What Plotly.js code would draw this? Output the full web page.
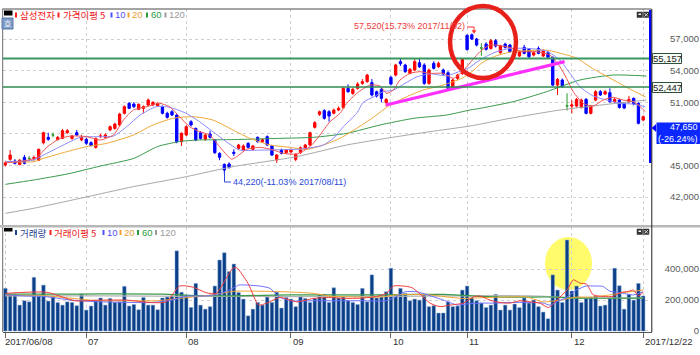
<!DOCTYPE html>
<html><head><meta charset="utf-8">
<script src="https://cdn.plot.ly/plotly-3.0.1.min.js"></script>
<style>html,body{margin:0;padding:0;background:#fff;}#chart{width:700px;height:355px;}</style>
</head><body><div id="chart"></div>
<script>
// ---- DATA ----
const openP = [45050,45580,45420,45100,45770,45670,45620,45500,47160,47670,47890,47480,47570,48110,47570,48110,47420,47480,47160,46720,
47730,47670,48370,48520,48840,49950,50900,50830,50330,50420,50740,50740,50670,50580,49950,50100,49790,47260,47900,49150,
48520,48110,47480,47990,47420,46150,45100,45140,46250,46620,46470,47100,46530,47670,47250,47730,46850,45520,46470,46220,
46280,45580,46220,46620,46940,48620,49850,50200,50100,49950,50260,50480,52320,51840,52320,52790,52950,52860,52000,52220,
50960,53360,53580,54850,54530,53740,54060,54750,54530,52790,54690,54380,54060,53800,52320,53270,53740,57350,57400,57000,
56150,56520,56110,56840,55700,56520,56430,55800,55390,56210,56020,55480,56110,55390,55700,55260,52630,53110,50650,50640,
50640,50510,51270,49950,51210,52000,51780,51910,51050,51210,50900,51050,51370,50890,49310];
const highP = [45450,46470,45600,45600,46000,45900,45950,46600,48200,48110,48110,47800,48450,48450,47900,48360,47900,47600,47300,47650,
48000,48050,48800,49050,50000,50700,51000,51000,50900,50700,51350,51100,51000,50700,50100,50250,49850,48150,48800,49300,
48600,48250,48000,48300,47500,46250,45200,45300,46530,47050,47000,47200,46950,47750,47550,47850,46950,46100,46600,46550,
46600,46150,46800,47050,48200,49200,50200,50350,50250,50400,50600,52400,52700,52350,52900,53200,53700,53200,52100,52350,
51400,53500,54650,55150,54650,54250,55100,55150,54700,54200,54900,54850,54200,53950,53250,53700,55200,57450,57520,57100,
56600,56700,57000,57000,56450,56650,56550,56200,55900,56450,56150,55850,56300,56000,55850,55350,53300,53250,51850,51200,
51400,51350,51400,50750,52150,52150,52150,52320,51400,51300,51000,51600,51450,51000,49750];
const lowP = [44900,45450,45100,45000,45100,45400,45450,45400,47000,47350,47670,47350,47500,48000,47450,47800,47300,46950,46800,46600,
47600,47600,48250,48400,48700,49850,50350,50450,50250,49950,50650,50650,50600,49850,49450,49700,47100,46850,47800,48700,
47300,47450,47350,47550,46100,45500,44220,44700,45900,46500,46350,46600,46400,47150,47150,46850,45900,45250,46050,46100,
46150,45400,46100,46500,46850,48500,49700,49350,49150,49850,50150,50400,51900,51700,52200,52650,52850,51550,51450,51000,
50600,52600,53450,54450,53800,53650,53950,54250,52650,52650,54100,54250,53550,52200,52200,53100,53600,55900,56900,56300,
55400,55900,56000,56200,55600,56100,55700,55700,55300,55550,55200,55350,55550,55300,55150,52550,51700,52350,50200,49950,
50500,50400,49850,49850,51100,51600,51700,50950,50950,50400,50350,50950,50700,48900,49200];
const closeP = [45250,45990,45200,45500,45200,45670,45740,46530,48110,47480,47890,47670,48300,48300,47800,47890,47670,47100,46900,47570,
47800,47890,48680,48930,49880,50580,50420,50580,50800,50580,51210,50990,50900,49950,49570,49790,47260,48050,48680,48840,
47420,47570,47890,47670,46210,45770,44570,44820,46150,46940,46850,46720,46850,47260,47450,46940,45990,45990,46150,46470,
46470,46060,46690,46940,48110,49060,50100,49470,49690,50260,50420,52320,52000,52220,52730,52950,53580,51690,51590,51370,
51270,52730,54530,54650,53900,54120,54850,54370,52790,54060,54220,54690,53680,52320,53110,53580,55070,56000,57000,56430,
56150,56020,56840,56330,56330,56210,55800,56020,55800,55640,55320,55700,55640,55900,55260,52630,53170,52480,50650,50740,
51270,51210,49950,50640,52000,51690,52000,51050,51270,50510,50450,51270,50830,49000,49630];
const volume = [275000,236000,236000,167000,195000,188000,346000,226000,296000,193000,226000,183000,167000,188000,184000,163000,238000,135000,161000,199000,
213000,167000,210000,184000,188000,288000,161000,171000,137000,216000,167000,167000,137000,213000,219000,226000,517000,250000,231000,152000,
307000,167000,141000,157000,290000,458000,505000,383000,432000,248000,206000,98000,141000,184000,167000,219000,184000,250000,148000,216000,
206000,157000,226000,210000,184000,210000,233000,236000,184000,279000,213000,219000,195000,184000,171000,275000,188000,362000,213000,231000,
253000,405000,231000,275000,242000,195000,206000,199000,236000,157000,163000,116000,116000,188000,157000,161000,264000,290000,213000,195000,
180000,151000,167000,236000,135000,167000,135000,174000,151000,213000,180000,199000,157000,122000,79000,362000,264000,184000,587000,258000,
290000,184000,213000,219000,226000,161000,167000,210000,405000,292000,141000,236000,199000,307000,226000];

// price moving averages (bar position, value)
const ma5Idx = [0,3.1,6.6,8.7,11.1,13.6,17.1,19.9,22.7,24.8,26.9,29.7,32.4,34.5,36.6,38.7,40.8,42.9,45,47.5,48.6,50.7,53.5,56.3,58.4,61.2,64,66.1,68.2,70.3,71.7,73.8,76.6,78.7,80.1,81.5,82.9,85,87.1,89.2,92,94.1,96.2,98.3,99.7,101.8,105.3,108.8,111.6,114.4,116.5,117.9,119.3,121.4,123.5,125.6,127.7,129.8,131.9,133.4,134.4];
const ma5Val = [45265,45360,45771,46720,47479,47795,47732,47416,47890,49313,50263,50579,50895,50579,49630,48681,48207,47890,46783,45600,45834,46530,46720,46467,46150,46087,46783,47890,49155,49946,50895,51844,52635,52540,51844,52160,53109,53742,53900,53742,53742,53267,54000,55100,55800,56431,56273,55798,55798,55482,54375,53268,52003,50895,50642,51212,51465,51212,51054,50579,50105];
const ma10Idx = [0,5.9,8,11.5,15.7,19.2,22.7,25.5,28.3,31.7,33.8,35.9,38,40.8,43.6,46.4,49.2,53,58,62,64.7,66.8,68.9,71,73.8,75.2,77.3,79.4,81.5,83.6,86.4,89.2,92.7,94.1,96.2,97.5,99,100.8,103.2,106,110.2,113.7,116.5,118.6,120.7,123.5,126.3,129.1,131.9,134.4];
const ma10Val = [45360,45518,45992,46783,47669,47732,47795,48681,49788,50579,50579,50326,49946,49155,48207,47258,46467,46450,46500,46550,46720,46942,47574,48681,49946,51000,51500,52000,52150,52700,53400,53700,53500,53700,54058,54300,54800,55300,55800,56100,56100,55850,55007,53742,52477,51591,51212,50895,50832,50579];
const ma20Idx = [0,6,8,12.9,17,21.3,26.9,31,35.2,39.4,43.6,47.8,51.4,55.6,59.8,63.3,66.8,70.3,73.8,77.3,80.8,84.3,87.8,92,96,98,100,102.5,106,110,113.5,117,120,123,127,131,134.5];
const ma20Val = [45360,45360,45676,46309,46783,47100,47890,48840,49472,49630,49313,48365,47574,46942,46720,46530,46942,47574,48523,49567,50737,51528,52160,52635,53300,53900,54700,55300,55750,55900,55950,55600,55200,54300,53300,52300,51500];
const ma60Idx = [0,5.9,13,20,27,32,37,41,47,52,57.7,64.7,71.7,78.7,85.7,92.7,97.6,99.7,106.7,113.7,120.7,127.7,134.7];
const ma60Val = [43210,43620,44190,44948,45676,46800,47300,47420,47450,47500,47574,47669,48048,48840,49472,49788,50263,50421,51054,52003,53110,53584,53489];
const ma120Idx = [0,5.9,15.7,26.9,38,47.8,61.2,71.7,82.2,89.2,97.6,106,116.5,127,134.7];
const ma120Val = [40457,40932,41880,42990,43936,44885,45834,46942,47732,48207,48745,49472,50263,50832,51212];

// volume moving averages
const vma5Idx = [0,8.7,14.6,19.9,25.5,30.3,33.8,36.6,39.4,42.2,44.3,46.4,47.8,48.6,51,53.2,54.9,57.7,61.2,64.7,68.2,71.7,75.2,78,80.1,81.5,83.6,85.4,87.1,89.2,91.3,93.4,96.2,98.3,99.7,101.8,103.9,106,108.1,110.2,112.3,114.1,115.8,118,119.3,120.7,122.1,123.5,125.6,127.7,129.1,130.9,132,133,134];
const vma5Val = [243000,250000,195000,199000,199000,184000,188000,290000,283000,247000,242000,340000,405000,408000,306000,167000,180000,216000,188000,210000,216000,210000,213000,223000,243000,290000,290000,280000,239000,180000,157000,167000,180000,219000,226000,199000,184000,180000,195000,188000,180000,151000,199000,264000,330000,309000,302000,233000,223000,223000,247000,256000,264000,226000,251000];
const vma10Idx = [0,4,8,14,20,26,31,35,38,42,45,47.8,49,51,53.5,55.6,57.5,60,65,70,75,80,82,84,86.5,89,92,95,97,100,103,106,110,113,114.4,116,118,120,122,124,125.5,127,129,132,134];
const vma10Val = [233000,226000,223000,199000,188000,184000,184000,200000,225000,226000,240000,275000,296000,296000,290000,275000,220000,195000,195000,195000,195000,195000,220000,253000,253000,230000,200000,167000,175000,180000,180000,184000,184000,180000,167000,190000,219000,264000,290000,290000,288000,257000,248000,233000,253000];
const vma20Idx = [0,8,16,20,26,32,38,44,48,55,61,65,68,74,79,82,86,89,93,96,100,105,109.5,113,116.5,120,123.5,127,130.5,134];
const vma20Val = [230000,228000,205000,195000,195000,195000,215000,235000,256000,256000,250000,242000,225000,219000,219000,233000,236000,233000,219000,210000,215000,219000,219000,188000,199000,219000,219000,233000,250000,264000];
const vma60Idx = [0,16,24,33,40,48,60,70,80,86,92,100,105,116,120,134];
const vma60Val = [238000,238000,240000,238000,229000,227000,233000,233000,233000,236000,236000,224000,219000,219000,212000,212000];
const vma120Idx = [0,20,40,60,80,96,110,120,134];
const vma120Val = [227000,227000,224000,222000,224000,227000,227000,214000,212000];

const tickIdx = [0,17,38,60,81,97,119,134];
const tickLabels = ['2017/06/08','07','08','09','10','11','12','2017/12/22'];
const priceTicks = [42000,45000,48000,51000,54000,57000];
const volTicks = [0,200000,400000];
const hLines = [55157,52447];
const hLineLabels = ['55,157','52,447'];
const trendIdx = [80,117.5];
const trendVal = [50740,54860];
const highText = '57,520(15.73% 2017/11/02)';
const lowText = '44,220(-11.03% 2017/08/11)';
const lastPriceText = '47,650';
const lastPctText = '(-26.24%)';

// ---- helpers (pixel -> paper) ----
const PX = px => (px - 3) / 696;
const PY = py => (332 - py) / 323;
const fmt = v => v.toLocaleString('en-US');

// split candles into up / down / doji
const up = {x:[],o:[],h:[],l:[],c:[]}, dn = {x:[],o:[],h:[],l:[],c:[]}, dj = {x:[],o:[],h:[],l:[],c:[]};
for (let i = 0; i < closeP.length; i++) {
  const g = closeP[i] > openP[i] ? up : (closeP[i] < openP[i] ? dn : dj);
  g.x.push(i); g.o.push(openP[i]); g.h.push(highP[i]); g.l.push(lowP[i]); g.c.push(closeP[i]);
}
const candle = (g, col) => ({type:'candlestick', x:g.x, open:g.o, high:g.h, low:g.l, close:g.c,
  xaxis:'x', yaxis:'y', hoverinfo:'skip', whiskerwidth:0,
  increasing:{line:{color:col,width:1}, fillcolor:col}, decreasing:{line:{color:col,width:1}, fillcolor:col}});
const line = (x, y, col, w, xa, ya) => ({type:'scatter', mode:'lines', x:x, y:y, xaxis:xa, yaxis:ya,
  line:{color:col, width:w, shape:'spline', smoothing:0.6}, hoverinfo:'skip'});

const idx = closeP.map((_, i) => i);
const traces = [
  {type:'bar', x:idx, y:volume, xaxis:'x2', yaxis:'y2', width:0.74,
   marker:{color:'#0b3f88', line:{color:'#86a9d6', width:0.5}}, hoverinfo:'skip'},
  line(vma120Idx, vma120Val, '#b4b4b4', 1.2, 'x2', 'y2'),
  line(vma60Idx, vma60Val, '#3a9a4a', 1.2, 'x2', 'y2'),
  line(vma20Idx, vma20Val, '#f0a434', 1, 'x2', 'y2'),
  line(vma10Idx, vma10Val, '#7070ff', 1, 'x2', 'y2'),
  line(vma5Idx, vma5Val, '#f03c3c', 1, 'x2', 'y2'),
  line(ma120Idx, ma120Val, '#a8a8a8', 1, 'x', 'y'),
  line(ma60Idx, ma60Val, '#3a9a4a', 1, 'x', 'y'),
  line(ma20Idx, ma20Val, '#f0a838', 1, 'x', 'y'),
  line(ma10Idx, ma10Val, '#8a8aff', 1, 'x', 'y'),
  line(ma5Idx, ma5Val, '#f25555', 1, 'x', 'y'),
  {type:'scatter', mode:'lines', x:trendIdx, y:trendVal, xaxis:'x', yaxis:'y',
   line:{color:'#ff30ff', width:3.2}, hoverinfo:'skip'},
  candle(up, '#ff0000'), candle(dn, '#0000ff'), candle(dj, '#2f9a2f')
];

// ---- decorations ----
const shapes = [];
const rect = (x0,y0,x1,y1,fill,lc,lw,layer) => shapes.push({type:'rect', xref:'paper', yref:'paper',
  x0:PX(x0), x1:PX(x1), y0:PY(y1), y1:PY(y0), fillcolor:fill, line:{color:lc||fill, width:lw||0}, layer:layer||'above'});
const seg = (x0,y0,x1,y1,col,w) => shapes.push({type:'line', xref:'paper', yref:'paper',
  x0:PX(x0), x1:PX(x1), y0:PY(y0), y1:PY(y1), line:{color:col, width:w}});
const path = (pts, col, w, fill) => shapes.push({type:'path', xref:'paper', yref:'paper',
  path:'M ' + pts.map(p => PX(p[0]) + ',' + PY(p[1])).join(' L ') + (fill ? ' Z' : ''),
  line:{color:col, width:w}, fillcolor:fill || 'rgba(0,0,0,0)'});

// yellow highlight on volume (below bars)
shapes.push({type:'circle', xref:'paper', yref:'paper', x0:PX(545), x1:PX(592), y0:PY(290), y1:PY(237),
  fillcolor:'rgba(255,250,80,0.85)', line:{width:0}, layer:'below'});
// horizontal support / resistance lines
hLines.forEach((v, k) => shapes.push({type:'line', xref:'paper', yref:'y', x0:0, x1:PX(651), y0:v, y1:v,
  line:{color: k === 0 ? '#3a9660' : '#2f8a52', width: k === 0 ? 2 : 1.5}}));
// frame
seg(2.5, 9, 651.5, 9, '#4a4a4a', 1);
seg(2.7, 9, 2.7, 332, '#6a6a6a', 1);
rect(0, 225, 700, 227.5, '#b8b8b8');
// blue price bar at right edge + axis line
rect(649, 10, 651.5, 163, '#0000ff');
seg(651.8, 9, 651.8, 332, '#222', 1);
path([[652,128],[656,124.5],[656,131.5]], '#0000ff', 0.5, '#0000ff');
// red circle around the peak
shapes.push({type:'circle', xref:'paper', yref:'paper', x0:PX(450), x1:PX(516), y0:PY(78), y1:PY(6),
  line:{color:'#e8201a', width:4.5}});
// high / low marker leaders
path([[467,27],[474,27],[474,31]], '#ff3030', 1);
path([[472,30.5],[476,30.5],[474,33.5]], '#ff3030', 0.5, '#ff3030');
path([[224.5,172],[224.5,182],[231,182]], '#2848d8', 1);
// label boxes at right
rect(652.5, 53.5, 681.5, 63.5, '#f6fbf6', '#2f4f3a', 1);
rect(652.5, 82.5, 681.5, 92.5, '#f6fbf6', '#2f4f3a', 1);
rect(656.5, 122.5, 700, 144, '#0a28ff');
// legend swatches & icons
rect(4, 10.5, 12.5, 15.5, '#000');
rect(4, 228, 12.5, 231.5, '#000');
rect(2, 18, 13, 29, '#7d9bc4', '#5a78a8', 1);
[[15,'#ff2020'],[57.5,'#ff2020'],[110.5,'#5050ff'],[127.5,'#f0a030'],[146,'#2a9a3a'],[164.5,'#9a9a9a']]
  .forEach(s => rect(s[0], 12.5, s[0] + 2, 17.5, s[1]));
[[15,'#1f3f8f'],[49.5,'#ff2020'],[102.5,'#5050ff'],[119.5,'#f0a030'],[137,'#2a9a3a'],[155,'#9a9a9a']]
  .forEach(s => rect(s[0], 230, s[0] + 2, 235, s[1]));
[12, 229].forEach(y => {
  rect(637, y, 642.5, y + 5.5, '#333', '#333', 0.5);
  rect(638.5, y + 1.5, 641, y + 3, '#fff');
  rect(643.5, y, 649, y + 5.5, '#333', '#333', 0.5);
  seg(644.5, y + 1, 648, y + 4.5, '#fff', 0.8);
  seg(644.5, y + 4.5, 648, y + 1, '#fff', 0.8);
});

const KR = 'Noto Sans CJK KR, sans-serif';
const NUM = 'Liberation Sans, Arial, sans-serif';
const ann = [];
const txt = (x, y, t, col, size, anchor, fam) => ann.push({xref:'paper', yref:'paper', x:PX(x), y:PY(y), text:t,
  showarrow:false, xanchor:anchor || 'left', yanchor:'middle', font:{family:fam || NUM, size:size || 9.5, color:col}, borderpad:0});
// legends
txt(18.5, 15, '삼성전자', '#ee2020', 9.5, 'left', KR);
txt(61.5, 15, '가격이평 5', '#ee2020', 9.5, 'left', KR);
txt(113.5, 15, '10', '#5050ff');
txt(130.5, 15, '20', '#e8a030');
txt(149.5, 15, '60', '#2a9a3a');
txt(168, 15, '120', '#9a9a9a');
txt(18.5, 232.5, '거래량', '#1f3f8f', 9.5, 'left', KR);
txt(53, 232.5, '거래이평 5', '#ee2020', 9.5, 'left', KR);
txt(106, 232.5, '10', '#5050ff');
txt(122.5, 232.5, '20', '#e8a030');
txt(140.5, 232.5, '60', '#2a9a3a');
txt(158.5, 232.5, '120', '#9a9a9a');
txt(7.5, 23.5, '호', '#ffffff', 8, 'center', KR);
// high / low labels
txt(466, 26.5, highText, '#f03a3a', 9, 'right');
txt(231.5, 182, lowText, '#2848d8', 9, 'left');
// right labels
txt(667, 58.5, hLineLabels[0], '#222', 9.5, 'center');
txt(667, 87.5, hLineLabels[1], '#222', 9.5, 'center');
ann.push({xref:'paper', yref:'paper', x:PX(698.5), y:PY(133.3), text:lastPriceText + '<br>' + lastPctText,
  showarrow:false, xanchor:'right', yanchor:'middle', align:'right', borderpad:0,
  font:{family:NUM, size:9, color:'#ffffff'}});
// date labels (anchored to bar positions)
tickIdx.forEach((v, k) => ann.push({xref:'x2', yref:'paper', x:v, y:PY(341), text:tickLabels[k], showarrow:false,
  xanchor:'left', yanchor:'middle', xshift: k === 0 ? -1 : 1, font:{family:NUM, size:9.5, color:'#333'}, borderpad:0}));

const grid = {showgrid:true, gridcolor:'#cfcfcf', griddash:'dot', gridwidth:1, zeroline:false};
const layout = {
  width:700, height:355, margin:{l:3, r:1, t:9, b:23},
  paper_bgcolor:'#ffffff', plot_bgcolor:'rgba(0,0,0,0)', showlegend:false,
  xaxis:Object.assign({domain:[0, PX(652)], anchor:'y', range:[-0.5, 135.85], tickvals:tickIdx.slice(1),
    showticklabels:false, ticks:'', rangeslider:{visible:false}, fixedrange:true}, grid),
  yaxis:Object.assign({domain:[PY(225), 1], anchor:'free', position:PX(699), side:'left', range:[39350, 59850],
    tickvals:priceTicks, ticktext:priceTicks.map(fmt), ticks:'', showline:false,
    tickfont:{family:NUM, size:9.5, color:'#5a5a5a'}}, grid),
  xaxis2:Object.assign({domain:[0, PX(652)], anchor:'y2', matches:'x', range:[-0.5, 135.85], tickvals:tickIdx,
    showticklabels:false, ticks:'outside', ticklen:5, tickcolor:'#666', showline:true, linecolor:'#555',
    rangeslider:{visible:false}}, grid),
  yaxis2:Object.assign({domain:[0, PY(227)], anchor:'free', position:PX(699), side:'left', range:[-6500, 671000],
    tickvals:volTicks, ticktext:volTicks.map(fmt), ticks:'', showline:false,
    tickfont:{family:NUM, size:9.5, color:'#5a5a5a'}}, grid),
  shapes:shapes, annotations:ann
};
Plotly.newPlot('chart', traces, layout, {staticPlot:true, displayModeBar:false});
</script></body></html>
